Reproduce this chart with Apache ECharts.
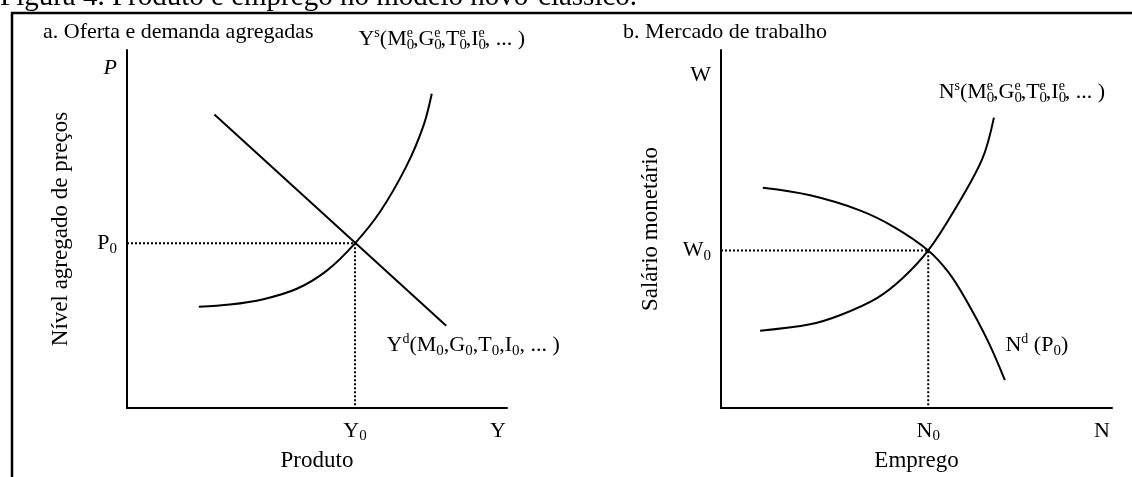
<!DOCTYPE html>
<html>
<head>
<meta charset="utf-8">
<script src="https://cdn.jsdelivr.net/npm/echarts@6/dist/echarts.min.js"></script>
<style>
  html, body { margin: 0; padding: 0; background: #fff; }
  #chart { width: 1132px; height: 477px; }
</style>
</head>
<body>
<div id="chart"></div>
<script>
// painel a: oferta e demanda agregadas
const supplyA = [[18.9, 28.3], [27.1, 28.9], [35.9, 30.4], [44.7, 33.3], [52.5, 38.3], [60, 46], [66.6, 54.8], [73.6, 67.7], [78.0, 78.8], [80.2, 87.8]];
const demandA = [[23, 82], [84, 23]];
const Y0 = 60;
const P0 = 46;
const yEnd = 97.6;
const pTop = 95;

// painel b: mercado de trabalho
const supplyB = [[10.0, 21.6], [22.8, 23.4], [30.4, 25.9], [39.9, 30.7], [46.5, 36.3], [53, 44], [59.6, 55.1], [66.8, 69.5], [69.8, 81.1]];
const demandB = [[10.7, 61.5], [22.8, 59.4], [35.5, 55.2], [44.5, 50.4], [53, 44], [58.1, 38.0], [62.5, 30.5], [68.3, 18.6], [72.6, 7.8]];
const N0 = 53;
const W0 = 44;
const nEnd = 97.4;
const wTop = 93;

const serif = 'Liberation Serif';
const rich = {
    n: { fontFamily: serif, fontSize: 22, lineHeight: 26, color: '#000' },
    it: { fontFamily: serif, fontSize: 22, lineHeight: 26, color: '#000', fontStyle: 'italic' },
    sub: { fontFamily: serif, fontSize: 15, lineHeight: 13, verticalAlign: 'bottom', color: '#000' },
    sup: { fontFamily: serif, fontSize: 14, lineHeight: 14, verticalAlign: 'top', color: '#000' },
    // expoente "e" empilhado sobre o indice 0
    se: { fontFamily: serif, fontSize: 14, lineHeight: 14, verticalAlign: 'top', color: '#000', padding: [0, 0, 0, -7.5] }
};

const chart = echarts.init(document.getElementById('chart'), null, { renderer: 'canvas' });

/** label de uma curva, preso ao ultimo ponto */
const endPoint = (data, text, offset) => {
    const last = data[data.length - 1];
    return data.slice(0, -1).concat([{
        value: last,
        label: { show: true, position: 'inside', offset, formatter: text, rich }
    }]);
};

const curve = (xi, data) => ({
    type: 'line',
    xAxisIndex: xi,
    yAxisIndex: xi,
    data,
    smooth: 0.35,
    symbolSize: 0,
    showSymbol: true,
    lineStyle: { color: '#000', width: 2 },
    itemStyle: { color: '#000' },
    label: { show: false },
    silent: true,
    z: 3
});

const guide = (xi, x0, y0) => ({
    type: 'line',
    xAxisIndex: xi,
    yAxisIndex: xi,
    data: [[0, y0], [x0, y0], [x0, 0]],
    symbol: 'none',
    lineStyle: { color: '#000', width: 2, type: [2, 2] },
    silent: true,
    z: 2
});

const xAxisOf = (gi, name, v0, vEnd, sym) => ({
    type: 'value',
    gridIndex: gi,
    min: 0,
    max: 100,
    name,
    nameLocation: 'middle',
    nameGap: 41,
    nameTextStyle: { fontFamily: serif, fontSize: 23, color: '#000' },
    axisLine: { lineStyle: { color: '#000', width: 2 } },
    axisTick: { show: false },
    splitLine: { show: false },
    axisLabel: {
        customValues: [v0, vEnd],
        margin: 10,
        formatter: v => (v === v0 ? '{n|' + sym + '}{sub|0}' : '{n|' + sym + '}'),
        rich
    }
});

const yAxisOf = (gi, name, v0, vTop, sym, italic, gap) => ({
    type: 'value',
    gridIndex: gi,
    min: 0,
    max: 100,
    name,
    nameLocation: 'middle',
    nameRotate: 90,
    nameGap: gap,
    nameTextStyle: { fontFamily: serif, fontSize: 23, color: '#000' },
    axisLine: { lineStyle: { color: '#000', width: 2 } },
    axisTick: { show: false },
    splitLine: { show: false },
    axisLabel: {
        customValues: [v0, vTop],
        margin: 10,
        formatter: v => (v === v0 ? '{n|' + sym + '}{sub|0}' : '{' + (italic ? 'it' : 'n') + '|' + sym + '}'),
        rich
    }
});

const ysText = '{n|Y}{sup|s}{n|(M}{sub|0}{se|e}{n|,G}{sub|0}{se|e}{n|,T}{sub|0}{se|e}{n|,I}{sub|0}{se|e}{n|, ... )}';
const ydText = '{n|Y}{sup|d}{n|(M}{sub|0}{n|,G}{sub|0}{n|,T}{sub|0}{n|,I}{sub|0}{n|, ... )}';
const nsText = '{n|N}{sup|s}{n|(M}{sub|0}{se|e}{n|,G}{sub|0}{se|e}{n|,T}{sub|0}{se|e}{n|,I}{sub|0}{se|e}{n|, ... )}';
const ndText = '{n|N}{sup|d}{n| (P}{sub|0}{n|)}';

const options = {
    backgroundColor: '#fff',
    animation: false,
    title: [
        {
            text: 'a. Oferta e demanda agregadas',
            left: 43,
            top: 21,
            padding: 0,
            textStyle: { fontFamily: serif, fontSize: 22, fontWeight: 'normal', color: '#000' }
        },
        {
            text: 'b. Mercado de trabalho',
            left: 623,
            top: 21,
            padding: 0,
            textStyle: { fontFamily: serif, fontSize: 22, fontWeight: 'normal', color: '#000' }
        }
    ],
    graphic: [
        {
            type: 'text',
            x: 0,
            y: -17,
            style: {
                text: 'Figura 4. Produto e emprego no modelo novo-clássico.',
                font: '29px "Liberation Serif"',
                fill: '#000',
                verticalAlign: 'top'
            }
        },
        {
            type: 'rect',
            shape: { x: 12, y: 13, width: 1200, height: 600 },
            style: { fill: 'none', stroke: '#000', lineWidth: 2.5 }
        }
    ],
    grid: [
        { left: 127, top: 50, width: 380, height: 361 },
        { left: 721, top: 50, width: 391, height: 361 }
    ],
    xAxis: [
        xAxisOf(0, 'Produto', Y0, yEnd, 'Y'),
        xAxisOf(1, 'Emprego', N0, nEnd, 'N')
    ],
    yAxis: [
        yAxisOf(0, 'Nível agregado de preços', P0, pTop, 'P', true, 55),
        yAxisOf(1, 'Salário monetário', W0, wTop, 'W', false, 59)
    ],
    series: [
        guide(0, Y0, P0),
        guide(1, N0, W0),
        curve(0, endPoint(supplyA, ysText, [10, -54])),
        curve(0, endPoint(demandA, ydText, [27, 20])),
        curve(1, endPoint(supplyB, nsText, [28, -25])),
        curve(1, endPoint(demandB, ndText, [32, -35]))
    ]
};

chart.setOption(options);
</script>
</body>
</html>
